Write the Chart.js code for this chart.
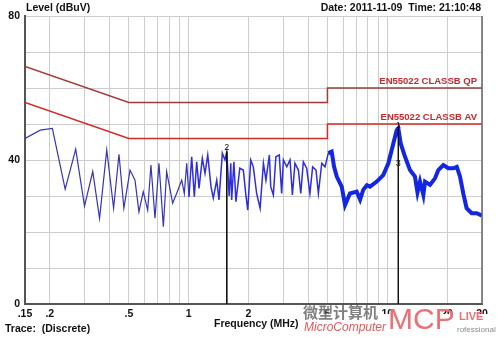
<!DOCTYPE html>
<html>
<head>
<meta charset="utf-8">
<script src="https://cdn.jsdelivr.net/npm/chart.js@4.4.1/dist/chart.umd.min.js"></script>
<style>
  html, body { margin: 0; padding: 0; background: #fff; }
  canvas { display: block; }
</style>
</head>
<body>
<canvas id="emiChart" width="500" height="337"></canvas>
<script>
// Scan trace (frequency in MHz, level in dBuV)
const traceFreq = [0.150, 0.179, 0.206, 0.239, 0.270, 0.299, 0.329, 0.356, 0.387, 0.419,
    0.446, 0.472, 0.507, 0.537, 0.562, 0.591, 0.622, 0.646, 0.677, 0.709,
    0.746, 0.775, 0.831, 0.870, 0.923, 0.951, 0.978, 1.004, 1.036, 1.068,
    1.098, 1.128, 1.172, 1.209, 1.248, 1.296, 1.331, 1.385, 1.422, 1.478,
    1.524, 1.556, 1.600, 1.630, 1.647, 1.690, 1.730, 1.810, 1.885, 1.946,
    1.985, 2.054, 2.117, 2.200, 2.290, 2.380, 2.450, 2.550, 2.590, 2.670,
    2.750, 2.860, 2.940, 3.000, 3.120, 3.240, 3.330, 3.430, 3.570, 3.670,
    3.780, 3.930, 4.080, 4.210, 4.380, 4.500, 4.680, 4.860, 5.050, 5.250,
    5.400, 5.570, 5.900, 6.130, 6.490, 7.020, 7.300, 7.570, 7.900, 8.190,
    8.850, 9.550, 10.13, 10.73, 11.16, 11.37, 11.69, 12.29, 13.02, 13.79,
    14.20, 14.62, 15.20, 15.50, 16.42, 17.40, 18.08, 19.16, 20.30, 21.50,
    22.40, 23.25, 24.15, 25.10, 26.60, 28.20, 29.60, 30.00];
const traceLevel = [46.0, 48.3, 48.8, 31.9, 43.0, 27.2, 36.8, 23.8, 42.8, 26.6,
    41.6, 26.6, 37.2, 34.4, 25.6, 31.2, 26.1, 38.6, 23.8, 39.1,
    21.5, 36.8, 28.0, 30.7, 34.4, 30.7, 39.1, 29.8, 40.9, 29.8,
    39.5, 32.1, 40.5, 36.3, 41.4, 32.6, 29.4, 34.4, 28.9, 41.9,
    40.0, 42.3, 30.0, 39.1, 28.9, 39.5, 28.4, 37.7, 37.2, 29.8,
    26.1, 40.0, 38.1, 30.7, 26.6, 39.1, 34.4, 41.4, 32.6, 30.3,
    40.9, 41.4, 30.7, 40.0, 38.1, 40.0, 30.3, 39.1, 37.2, 30.7,
    39.5, 37.7, 30.7, 38.1, 37.2, 30.7, 39.1, 38.1, 41.9, 42.3,
    38.1, 35.4, 32.6, 27.5, 30.7, 31.2, 29.0, 31.7, 33.0, 32.6,
    34.0, 35.8, 39.1, 44.6, 48.3, 48.8, 44.6, 40.9, 37.2, 35.4,
    31.0, 34.0, 30.3, 34.0, 33.1, 34.9, 37.2, 38.6, 37.7, 37.7,
    38.1, 35.4, 30.7, 26.6, 25.2, 25.2, 24.7, 24.5];

// EN55022 class B limits
const limitFreq = [0.15, 0.5, 5, 5, 30];
const qpLevel = [66, 56, 56, 60, 60];
const avLevel = [56, 46, 46, 50, 50];

// Markers
const markerNames = ["2", "1", "3"];
const markerFreq = [1.556, 11.37, 11.37];
const markerLevel = [42.3, 48.8, 39.0];

// Axes
const xGridValues = [0.15, 0.2, 0.3, 0.4, 0.5, 0.6, 0.7, 0.8, 0.9, 1, 2, 3, 4, 5, 6, 7, 8, 9, 10, 20, 30];
const xTickValues = [0.15, 0.2, 0.5, 1, 2, 5, 10, 20, 30];
const xTickLabels = [".15", ".2", ".5", "1", "2", "5", "10", "20", "30"];
const yTickLabels = [0, 40, 80];

const FONT = '"Liberation Sans", Arial, sans-serif';

function toPoints(xs, ys) {
    return xs.map((x, i) => ({ x: x, y: ys[i] }));
}

let markerSets = [];
[0, 1].forEach(function (i) {
    markerSets.push({
        data: [{ x: markerFreq[i], y: markerLevel[i] }, { x: markerFreq[i], y: 0 }],
        borderColor: "#111",
        borderWidth: 1,
        pointRadius: 0
    });
});

const textPlugin = {
    id: "texts",
    afterDraw(chart) {
        const ctx = chart.ctx;
        const xs = chart.scales.x, ys = chart.scales.y;
        const area = chart.chartArea;
        ctx.save();

        // right frame line
        ctx.strokeStyle = "#666";
        ctx.lineWidth = 1.5;
        ctx.beginPath();
        ctx.moveTo(area.right, area.top);
        ctx.lineTo(area.right, area.bottom);
        ctx.stroke();

        ctx.fillStyle = "#111";
        ctx.textBaseline = "middle";
        ctx.font = "bold 10.5px " + FONT;
        ctx.textAlign = "left";
        ctx.fillText("Level (dBuV)", 26, 8);
        ctx.fillText("Trace:  (Discrete)", 5, 329);
        ctx.fillText("Frequency (MHz)", 214, 324);
        ctx.textAlign = "right";
        ctx.fillText("Date: 2011-11-09  Time: 21:10:48", 481, 8);

        // limit labels
        ctx.fillStyle = "#c8282d";
        ctx.font = "bold 9.5px " + FONT;
        ctx.fillText("EN55022 CLASSB QP", 477, ys.getPixelForValue(qpLevel[4]) - 7);
        ctx.fillText("EN55022 CLASSB AV", 477, ys.getPixelForValue(avLevel[4]) - 7);

        // marker labels
        ctx.fillStyle = "#111";
        ctx.font = "9px " + FONT;
        ctx.textAlign = "center";
        ctx.fillText(markerNames[0], xs.getPixelForValue(markerFreq[0]), ys.getPixelForValue(markerLevel[0]) - 4);
        ctx.fillText(markerNames[1], xs.getPixelForValue(markerFreq[1]), ys.getPixelForValue(markerLevel[1]) - 3);
        ctx.fillText(markerNames[2], xs.getPixelForValue(markerFreq[2]), ys.getPixelForValue(markerLevel[2]));

        // watermark
        ctx.fillStyle = "#fff";
        ctx.fillRect(300, 314, 200, 23);
        ctx.textAlign = "left";
        ctx.fillStyle = "#808080";
        ctx.font = "bold 15px \"Noto Sans CJK SC\"";
        ctx.fillText("微型计算机", 303, 312);
        ctx.fillStyle = "#e05a5a";
        ctx.font = "italic 12px " + FONT;
        ctx.fillText("MicroComputer", 304, 328);
        ctx.fillStyle = "#ec6f74";
        ctx.font = "30px " + FONT;
        ctx.fillText("MCP", 388, 321);
        ctx.font = "bold 11px " + FONT;
        ctx.fillText("LIVE", 459, 317);
        ctx.fillStyle = "#8a8a8a";
        ctx.font = "8px " + FONT;
        ctx.fillText("rofessional", 457, 330);
        ctx.restore();
    }
};

let emiChart = new Chart(document.getElementById("emiChart"), {
    type: "line",
    data: {
        datasets: [{
            data: toPoints(limitFreq, qpLevel),
            borderColor: "#a03c3c",
            borderWidth: 1.5,
            pointRadius: 0
        }, {
            data: toPoints(limitFreq, avLevel),
            borderColor: "#d42a2a",
            borderWidth: 1.5,
            pointRadius: 0
        }].concat(markerSets).concat([{
            data: toPoints(traceFreq, traceLevel),
            borderColor: "#3434b8",
            borderWidth: 1.2,
            pointRadius: 0,
            segment: {
                borderWidth: c => c.p0.parsed.x >= 5 ? 4 : (c.p0.parsed.x >= 1 ? 1.5 : 1.2),
                borderColor: c => c.p0.parsed.x >= 5 ? "#1226e4" : (c.p0.parsed.x >= 1 ? "#2e2ee0" : "#3434b8")
            }
        }])
    },
    options: {
        responsive: false,
        animation: false,
        layout: { padding: { top: 16, right: 18, left: 0, bottom: 0 } },
        plugins: { legend: { display: false }, tooltip: { enabled: false } },
        scales: {
            x: {
                type: "logarithmic",
                min: 0.15,
                max: 30,
                afterBuildTicks: s => { s.ticks = xGridValues.map(v => ({ value: v })); },
                afterFit: s => { s.height = 33; },
                grid: { color: "#cdcdcd", lineWidth: 1, drawTicks: false },
                border: { color: "#555", width: 2 },
                ticks: {
                    autoSkip: false,
                    maxRotation: 0,
                    padding: 4,
                    color: "#111",
                    font: { family: FONT, size: 10.5, weight: "bold" },
                    callback: function (v) {
                        const i = xTickValues.indexOf(v);
                        return i >= 0 ? xTickLabels[i] : "";
                    }
                }
            },
            y: {
                min: 0,
                max: 80,
                afterFit: s => { s.width = 25; },
                grid: { color: "#cdcdcd", lineWidth: 1, drawTicks: false },
                border: { color: "#555", width: 2 },
                ticks: {
                    stepSize: 10,
                    padding: 5,
                    color: "#111",
                    font: { family: FONT, size: 10.5, weight: "bold" },
                    callback: v => yTickLabels.indexOf(v) >= 0 ? v : ""
                }
            }
        }
    },
    plugins: [textPlugin]
});
</script>
</body>
</html>
